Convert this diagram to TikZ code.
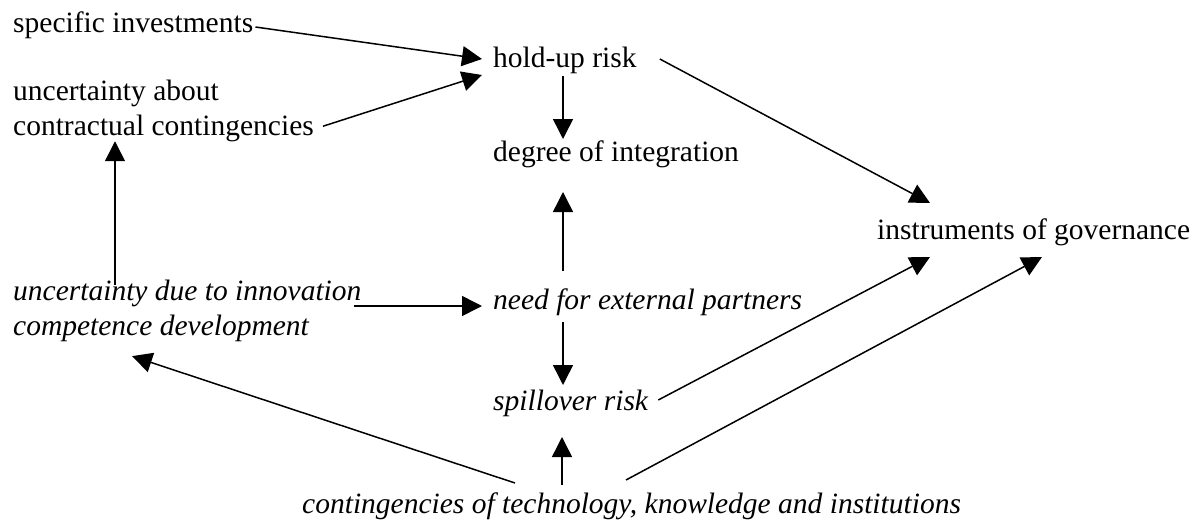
\documentclass[tikz,border=0pt]{standalone}
\usepackage{fontspec}
\setmainfont{Liberation Serif}
\usetikzlibrary{arrows.meta}
\tikzset{
  lbl/.style={anchor=base west, inner sep=0pt, font=\fontsize{29.5}{35}\selectfont},
  ilbl/.style={lbl, font=\fontsize{29.5}{35}\selectfont\itshape},
  twoline/.style={anchor=north west, align=left, inner sep=0pt},
  arrow/.style={-{Triangle[length=20pt,width=20pt]}, line width=1.5pt, color=black}
}

\begin{document}
\begin{tikzpicture}[x=1pt, y=-1pt]
  \useasboundingbox (0,0) rectangle (1199,525);

  % Nodes
  \node[lbl] (spec) at (13,32) {specific investments};
  \node[lbl, twoline] (contr) at (13,80) {uncertainty about\\contractual contingencies};
  \node[lbl] (hold) at (493,67) {hold-up risk};
  \node[lbl] (degree) at (493,161) {degree of integration};
  \node[lbl] (inst) at (877,239) {instruments of governance};
  \node[ilbl, twoline] (innov) at (13,280) {uncertainty due to innovation\\competence development};
  \node[ilbl] (need) at (493,309) {need for external partners};
  \node[ilbl] (spill) at (493,410) {spillover risk};
  \node[ilbl] (cont) at (302,513) {contingencies of technology, knowledge and institutions};

  % Connections
  \draw[arrow] ([shift={(2pt,5pt)}]spec.base east) -- ([shift={(-11pt,8pt)}]hold.base west);
  \draw[arrow] ([shift={(9pt,16pt)}]contr.south east) -- ([shift={(-11pt,-8pt)}]hold.base west);
  \draw[arrow] ([shift={(102pt,-5pt)}]innov.north west) -- ([shift={(102pt,1pt)}]contr.south west);
  \draw[arrow] ([shift={(-8pt,-26pt)}]innov.north east) -- ([shift={(-11pt,3pt)}]need.base west);
  \draw[arrow] ([shift={(70pt,-9pt)}]hold.base west) -- ([shift={(70pt,22pt)}]degree.base west);
  \draw[arrow] ([shift={(70pt,38pt)}]need.base west) -- ([shift={(70pt,-31pt)}]degree.base west);
  \draw[arrow] ([shift={(70pt,-13pt)}]need.base west) -- ([shift={(70pt,25pt)}]spill.base west);
  \draw[arrow] ([shift={(260pt,28pt)}]cont.base west) -- ([shift={(69pt,-27pt)}]spill.base west);
  \draw[arrow] ([shift={(213pt,30pt)}]cont.base west) -- ([shift={(119pt,-14pt)}]innov.south west);
  \draw[arrow] ([shift={(324pt,33pt)}]cont.base west) -- ([shift={(165pt,-18pt)}]inst.base west);
  \draw[arrow] ([shift={(10pt,10pt)}]spill.base east) -- ([shift={(53pt,-18pt)}]inst.base west);
  \draw[arrow] ([shift={(23pt,8pt)}]hold.base east) -- ([shift={(53pt,36pt)}]inst.base west);
\end{tikzpicture}
\end{document}
